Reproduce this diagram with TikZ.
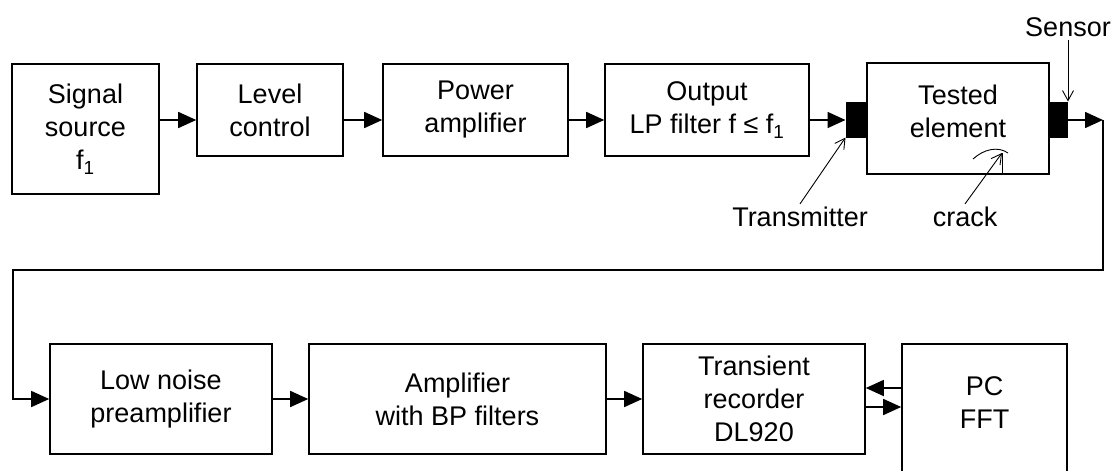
\documentclass[tikz,border=0pt]{standalone}
\usepackage{fontspec}
\setmainfont{Liberation Sans}
\usetikzlibrary{arrows.meta}
\tikzset{
  blk/.style={draw, line width=1.6pt, inner sep=0pt, align=center},
  pad/.style={fill=black, draw=black, line width=1pt, inner sep=0pt},
  txt/.style={align=center, inner sep=3pt},
  sig/.style={line width=1.6pt, -{Triangle[length=18pt,width=16pt]}},
  call/.style={line width=0.9pt, -{Straight Barb[length=10pt,width=11pt]}},
}
\begin{document}
\begin{tikzpicture}[x=1pt, y=-1pt, font=\fontsize{27}{33}\selectfont]
        \useasboundingbox (0,0) rectangle (1116,471);
        % Upper chain
        \node[blk, minimum width=147, minimum height=130] (src) at (85.5,129) {Signal\\source\\f\textsubscript{1}};
        \node[blk, minimum width=146, minimum height=92] (lvl) at (270,110) {Level\\control};
        \node[blk, minimum width=185, minimum height=92] (pamp) at (475.5,110) {Power\\amplifier};
        \node[blk, minimum width=204, minimum height=92] (lpf) at (707,110) {Output\\LP filter f ≤ f\textsubscript{1}};
        \node[pad, minimum width=21, minimum height=35] (tx) at (856.5,119.5) {};
        \node[blk, minimum width=182, minimum height=111] (tested) at (958,118.5) {};
        \node[txt] (testedtxt) at (958,111) {Tested\\element};
        \node[pad, minimum width=18, minimum height=35] (rx) at (1058,119.5) {};
        % Lower chain
        \node[blk, minimum width=222, minimum height=110] (lna) at (161,399) {Low noise\\preamplifier};
        \node[blk, minimum width=297, minimum height=110] (bpamp) at (457.5,399) {Amplifier\\with BP filters};
        \node[blk, minimum width=222, minimum height=110] (rec) at (754,399) {Transient\\recorder\\DL920};
        \node[blk, minimum width=165, minimum height=134] (pc) at (984.5,411) {};
        \node[txt] (pctxt) at (984.5,403) {PC\\FFT};
        % Labels
        \node[txt] (senslbl) at (1068,27) {Sensor};
        \node[txt] (txlbl) at (800,217) {Transmitter};
        \node[txt] (cracklbl) at (965,217) {crack};
        % Signal path
        \coordinate (row) at (0,120);
        \coordinate (turn) at (1103,120);
        \coordinate (loop) at (13,270);
        \draw[sig] (src.east |- row) -- (lvl.west |- row);
        \draw[sig] (lvl.east |- row) -- (pamp.west |- row);
        \draw[sig] (pamp.east |- row) -- (lpf.west |- row);
        \draw[sig] (lpf.east |- row) -- (tx.west |- row);
        \draw[sig] (rx.east |- row) -- (turn);
        \draw[sig] (turn) |- (loop) |- (lna.west);
        \draw[sig] (lna) -- (bpamp);
        \draw[sig] (bpamp) -- (rec);
        % PC link
        \coordinate (back) at (0,388);
        \coordinate (fwd) at (0,407);
        \draw[sig] (pc.west |- back) -- (rec.east |- back);
        \draw[sig] (rec.east |- fwd) -- (pc.west |- fwd);
        % Crack and callouts
        \coordinate (tip) at (1002,153);
        \draw[line width=0.9pt] (973,159) .. controls (984,149) and (998,146) .. (1008,153);
        \draw[line width=0.9pt] (tip) -- (tip |- tested.south);
        \draw[call] (senslbl.south) -- (senslbl.south |- rx.north);
        \draw[call] (txlbl.north) -- (tx.south west);
        \draw[call] (cracklbl.north) -- (tip);
\end{tikzpicture}
\end{document}
